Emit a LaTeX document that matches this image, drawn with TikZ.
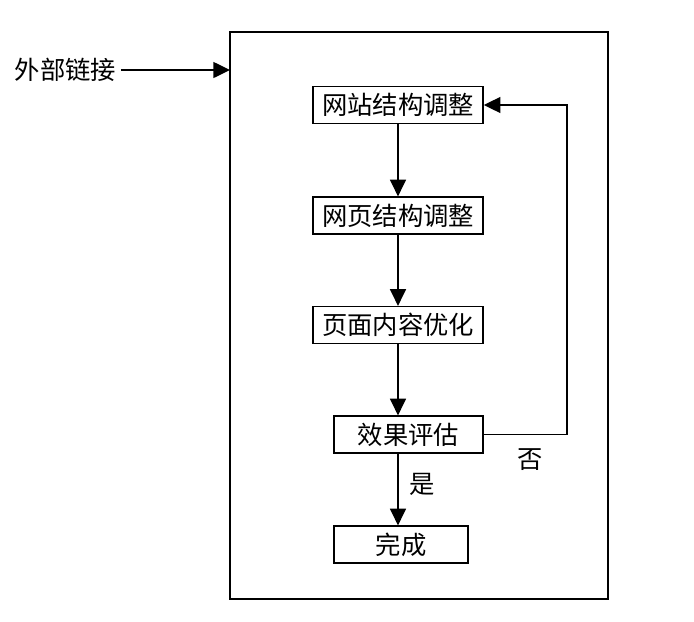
\documentclass[tikz,border=0pt]{standalone}
\usepackage{fontspec}
\newfontfamily\cjk{Noto Sans CJK SC}
\usetikzlibrary{arrows.meta}

\begin{document}
\begin{tikzpicture}[x=0.75pt,y=-0.75pt,
	step box/.style={draw,line width=1.2pt,inner sep=0pt,minimum height=27.5pt,font=\cjk\fontsize{19}{19}\selectfont},
	flow/.style={line width=1.1pt,-{Triangle[length=12.5pt,width=12pt]}},
	lbl/.style={font=\cjk\fontsize{19}{19}\selectfont}]
	\useasboundingbox (0,0) rectangle (694,622);
	\pgfmathsetmacro\BACK{567}
	
	\draw[line width=1.2pt] (230,32) rectangle (608,599);
	\coordinate (frame) at (230,70);
	
	\node[lbl,anchor=west] (ext) at (10,70) {外部链接};
	\node[step box,minimum width=127.5pt] (site) at (398,105) {网站结构调整};
	\node[step box,minimum width=127.5pt] (page) at (398,215.5) {网页结构调整};
	\node[step box,minimum width=127.5pt] (content) at (398,325) {页面内容优化};
	\node[step box,minimum width=111.5pt] (eval) at (408.5,434.5) {效果评估};
	\node[step box,minimum width=100.5pt] (done) at (401,544.5) {完成};
	\coordinate (turn) at (\BACK,434.5);
	
	\draw[flow] (ext) -- (frame);
	\draw[flow] (site) -- (page);
	\draw[flow] (page) -- (content);
	\draw[flow] (content.south) -- (content.south |- eval.north);
	\draw[flow] (content.south |- eval.south) -- (content.south |- done.north);
	\draw[flow] (eval.east) -- (turn) |- (site.east);
	
	\draw node[lbl] at (422,484) {是};
	\draw node[lbl] at (530,460) {否};
\end{tikzpicture}
\end{document}
